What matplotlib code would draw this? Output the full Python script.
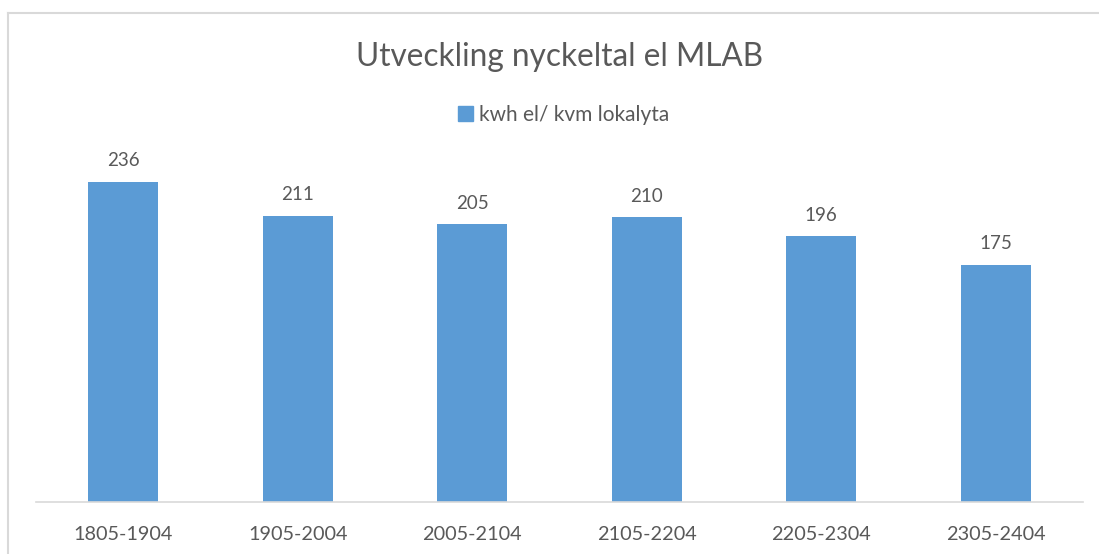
import matplotlib
matplotlib.use("Agg")
import matplotlib.pyplot as plt
from matplotlib.lines import Line2D
from matplotlib.patches import Patch

periods = ["1805-1904", "1905-2004", "2005-2104", "2105-2204", "2205-2304", "2305-2404"]
kwh_per_kvm = [236, 211, 205, 210, 196, 175]

BAR = "#5B9BD5"
TXT = "#595959"
plt.rcParams["font.family"] = ["Lato", "DejaVu Sans"]

W, H = 1099, 554
fig = plt.figure(figsize=(W / 100, H / 100), dpi=100)
ax = fig.add_axes([36 / W, 52 / H, (1083 - 36) / W, (502 - 163) / H])

x = range(len(periods))
bars = ax.bar(x, kwh_per_kvm, width=0.4, color=BAR, zorder=2)
for b, v in zip(bars, kwh_per_kvm):
    ax.annotate(str(v), (b.get_x() + b.get_width() / 2, v), xytext=(0, 9),
                textcoords="offset points", ha="center", va="bottom",
                fontsize=13.5, color=TXT)

ax.set_xlim(-0.5, len(periods) - 0.5)
ax.set_ylim(0, 250)
ax.set_xticks(list(x))
ax.set_xticklabels(periods, fontsize=14.3, color=TXT)
ax.tick_params(axis="x", length=0, pad=17)
ax.set_yticks([])
for s in ("top", "right", "left"):
    ax.spines[s].set_visible(False)
ax.spines["bottom"].set_color("#D9D9D9")
ax.spines["bottom"].set_linewidth(1.2)

fig.text(560 / W, 1 - 57 / H, "Utveckling nyckeltal el MLAB", ha="center", va="center",
         fontsize=22.7, color=TXT)
fig.legend(handles=[Patch(color=BAR, label="kwh el/ kvm lokalyta")],
           loc="center", bbox_to_anchor=(564 / W, 1 - 115 / H), frameon=False,
           fontsize=15, labelcolor=TXT, handlelength=0.7, handleheight=0.7,
           handletextpad=0.3)

# outer chart border (cropped screenshot: only left and top visible)
fig.add_artist(Line2D([8 / W, 8 / W], [0, 1 - 13 / H], transform=fig.transFigure,
                      color="#D9D9D9", lw=1.5))
fig.add_artist(Line2D([8 / W, 1], [1 - 13 / H, 1 - 13 / H], transform=fig.transFigure,
                      color="#D9D9D9", lw=1.5))

fig.savefig("out.png", dpi=100)
